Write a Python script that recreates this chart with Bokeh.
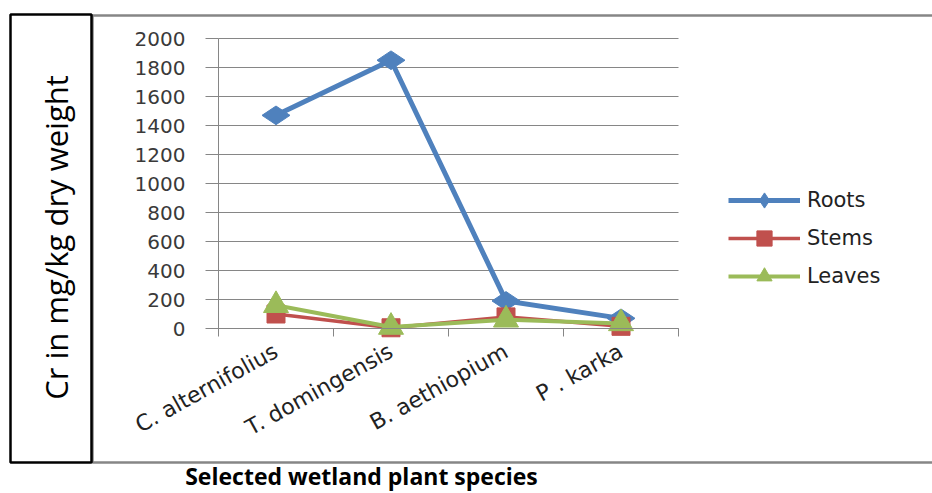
import math
from bokeh.plotting import figure
from bokeh.models import (Range1d, FixedTicker, Legend, LegendItem, Label,
                          BoxAnnotation, ColumnDataSource)
from bokeh.embed import file_html
from bokeh.resources import INLINE

categories = ["C. alternifolius", "T. domingensis", "B. aethiopium", "P . karka"]
roots = [1470, 1850, 190, 70]
stems = [100, 5, 80, 15]
leaves = [160, 10, 60, 35]
y_ticks = [0, 200, 400, 600, 800, 1000, 1200, 1400, 1600, 1800, 2000]
y_title = "Cr in mg/kg dry weight"
x_title = "Selected wetland plant species"

x_pos = [i + 0.5 for i in range(len(categories))]
boundaries = list(range(len(categories) + 1))
n_cat = len(categories)
y_max = y_ticks[-1]

W, H = 932, 493
# pixel placement of the plotting area inside the canvas
PX0, PX1, PY_TOP, PY_BOT = 218, 678, 38, 328
ux = (PX1 - PX0) / n_cat          # px per category
uy = (PY_BOT - PY_TOP) / y_max    # px per unit
x_range = Range1d(-PX0 / ux, n_cat + (W - PX1) / ux)
y_range = Range1d(-(H - PY_BOT) / uy, y_max + PY_TOP / uy)

GRAY = "#868686"

p = figure(width=W, height=H, output_backend="svg", toolbar_location=None,
           x_range=x_range, y_range=y_range, min_border=0)
p.outline_line_color = None
p.background_fill_color = "white"
p.border_fill_color = "white"

# y axis (fixed at x = 0, drawn only over 0..2000)
yax = p.yaxis[0]
yax.fixed_location = 0
yax.bounds = (0, y_max)
yax.ticker = FixedTicker(ticks=y_ticks)
yax.axis_line_color = GRAY
yax.major_tick_line_color = GRAY
yax.major_tick_out = 13
yax.major_tick_in = 0
yax.minor_tick_line_color = None
yax.major_label_standoff = 20
yax.major_label_text_font = "DejaVu Sans"
yax.major_label_text_font_size = "20px"
yax.major_label_text_color = "#3a3a3a"

# x axis (fixed at y = 0, drawn only over the categories)
xax = p.xaxis[0]
xax.fixed_location = 0
xax.bounds = (0, n_cat)
xax.ticker = FixedTicker(ticks=x_pos, minor_ticks=boundaries)
xax.major_label_overrides = {x: c for x, c in zip(x_pos, categories)}
xax.axis_line_color = GRAY
xax.major_tick_line_color = None
xax.major_tick_out = 0
xax.major_tick_in = 0
xax.minor_tick_line_color = GRAY
xax.minor_tick_out = 8
xax.minor_tick_in = 0
xax.major_label_orientation = math.radians(29)
xax.major_label_standoff = 13
xax.major_label_text_font = "DejaVu Sans"
xax.major_label_text_font_size = "22px"
xax.major_label_text_color = "#222222"

p.xgrid.grid_line_color = None
p.ygrid.grid_line_color = GRAY
p.ygrid.grid_line_width = 1
p.ygrid.ticker = FixedTicker(ticks=y_ticks)
p.ygrid.cross_bounds = (0, n_cat)

series = [
    ("Roots", roots, "#4F81BD", 5, "diamond", 28, math.pi / 2),
    ("Stems", stems, "#C0504D", 3.5, "square", 18, 0),
    ("Leaves", leaves, "#9BBB59", 4, "triangle", 25, 0),
]
items = []
for name, vals, color, lw, marker, size, ang in series:
    src = ColumnDataSource(dict(x=x_pos, y=vals))
    ln = p.line("x", "y", source=src, line_color=color, line_width=lw)
    sc = p.scatter("x", "y", source=src, marker=marker, size=size, angle=ang,
                   fill_color=color, line_color=color)
    items.append(LegendItem(label=name, renderers=[ln, sc]))

legend = Legend(items=items, location=(728, H - 295), orientation="vertical",
                glyph_width=72, glyph_height=38, spacing=0, padding=0, margin=0,
                label_standoff=7, label_text_font="DejaVu Sans",
                label_text_font_size="21px", label_text_color="#222222",
                border_line_color=None, background_fill_alpha=0,
                label_height=38)
p.add_layout(legend)

# boxes: chart area (gray) and y-title box (black)
p.add_layout(BoxAnnotation(left=92, right=W + 10, bottom=H - 462, top=H - 15,
                           left_units="screen", right_units="screen",
                           bottom_units="screen", top_units="screen",
                           fill_color=None, fill_alpha=0, line_color=GRAY,
                           line_alpha=1, line_width=2.5))
p.add_layout(BoxAnnotation(left=10, right=91, bottom=H - 462, top=H - 14,
                           left_units="screen", right_units="screen",
                           bottom_units="screen", top_units="screen",
                           fill_color=None, fill_alpha=0, line_color="black",
                           line_alpha=1, line_width=2.5))

p.add_layout(Label(x=55, y=H - 237, x_units="screen", y_units="screen",
                   text=y_title, angle=math.pi / 2, text_align="center",
                   text_baseline="middle", text_font="Open Sans",
                   text_font_size="31px", text_color="black"))
p.add_layout(Label(x=361, y=H - 475, x_units="screen", y_units="screen",
                   text=x_title, text_align="center", text_baseline="middle",
                   text_font="Open Sans", text_font_style="bold",
                   text_font_size="23px", text_color="black"))

open("out.html", "w").write(file_html(p, INLINE))
